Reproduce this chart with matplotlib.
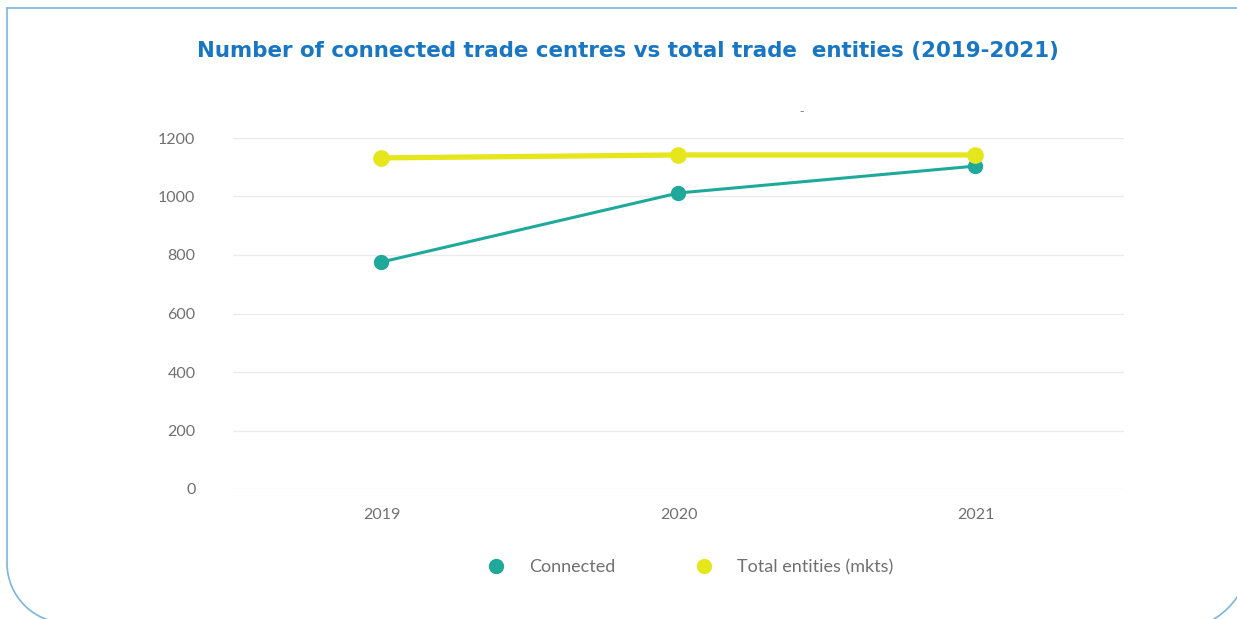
import matplotlib
matplotlib.use("Agg")
import matplotlib.pyplot as plt
from matplotlib.patches import Arc
from matplotlib.lines import Line2D

years = ["2019", "2020", "2021"]
connected = [776, 1012, 1104]
total_entities = [1132, 1142, 1142]
series_labels = ["Connected", "Total entities (mkts)"]
y_ticks = [0, 200, 400, 600, 800, 1000, 1200]
title = "Number of connected trade centres vs total trade  entities (2019-2021)"

W, H = 1237, 619
teal = "#1fa99b"
yellow = "#e6e61c"
grey_text = "#707070"
frame_blue = "#7ab6e0"

fig = plt.figure(figsize=(W / 100, H / 100), dpi=100)
fig.patch.set_facecolor("white")

# Card outline drawn in pixel space
bg = fig.add_axes([0, 0, 1, 1], zorder=-1)
bg.set_xlim(0, W)
bg.set_ylim(H, 0)
bg.axis("off")
bg.plot([W + 5, 7], [8, 8], color=frame_blue, lw=1.2)
bg.plot([7, 7], [8, 563], color=frame_blue, lw=1.2)
bg.add_patch(Arc((67, 563), 120, 120, theta1=90, theta2=180, color=frame_blue, lw=1.2))
bg.add_patch(Arc((1175, 555), 150, 150, theta1=0, theta2=90, color=frame_blue, lw=1.2))
bg.text(627.5, 51, title, ha="center", va="center", fontsize=15.4,
        fontweight="heavy", color="#1876c2", family="DejaVu Sans")
bg.text(802, 112, "-", ha="center", va="center", fontsize=9, color="#888888")

ax = fig.add_axes([233 / W, 1 - 489 / H, (1124 - 233) / W, (489 - 138) / H])
x = list(range(len(years)))
ax.plot(x, connected, color=teal, lw=2.2, marker="o", ms=10, zorder=3, clip_on=False)
ax.plot(x, total_entities, color=yellow, lw=3.8, marker="o", ms=11, zorder=4, clip_on=False)

ax.set_xlim(-0.5, len(years) - 0.5)
ax.set_ylim(0, 1200)
ax.set_yticks(y_ticks)
ax.set_xticks(x)
ax.set_xticklabels(years)
ax.grid(axis="y", color="#ebebeb", lw=1)
ax.set_axisbelow(True)
for s in ax.spines.values():
    s.set_visible(False)
ax.tick_params(axis="both", length=0, labelsize=11.5, labelcolor=grey_text)
ax.tick_params(axis="y", pad=27)
ax.tick_params(axis="x", pad=14)
for lab in ax.get_xticklabels() + ax.get_yticklabels():
    lab.set_family("Lato")

handles = [Line2D([], [], ls="none", marker="o", ms=10, color=teal),
           Line2D([], [], ls="none", marker="o", ms=10, color=yellow)]
leg = fig.legend(handles, series_labels, loc="center", bbox_to_anchor=(685.5 / W, 1 - 567 / H),
                 ncol=2, frameon=False, handletextpad=0.83, columnspacing=3.9,
                 borderpad=0, borderaxespad=0,
                 prop={"family": "Lato", "size": 13})
for t in leg.get_texts():
    t.set_color(grey_text)

fig.savefig("out.png", dpi=100, facecolor="white")
